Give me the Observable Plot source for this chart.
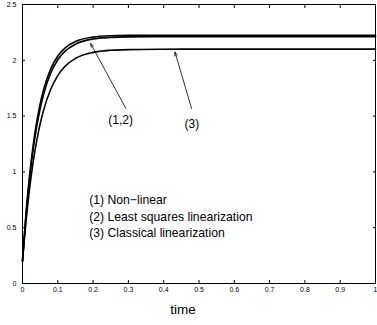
<!DOCTYPE html>
<html>
<head>
<meta charset="utf-8">
<script src="https://cdn.jsdelivr.net/npm/d3@7"></script>
<script src="https://cdn.jsdelivr.net/npm/@observablehq/plot@0.6"></script>
<style>
  html, body { margin: 0; padding: 0; background: #fff; }
  #chart { width: 377px; height: 325px; }
  svg { font-family: "Liberation Sans", Arial, Helvetica, sans-serif; }
</style>
</head>
<body>
<div id="chart"></div>
<script>
const times        = [0, 0.005, 0.01, 0.02, 0.03, 0.04, 0.05, 0.06, 0.08, 0.10, 0.12, 0.15, 0.2, 0.25, 0.3, 0.4, 0.5, 0.7, 1.0];
const nonLinear    = [0.2, 0.427, 0.629, 0.967, 1.233, 1.443, 1.609, 1.739, 1.923, 2.038, 2.109, 2.168, 2.208, 2.220, 2.2235, 2.225, 2.225, 2.225, 2.225];
const leastSquares = [0.2, 0.416, 0.609, 0.934, 1.194, 1.401, 1.566, 1.697, 1.886, 2.005, 2.080, 2.145, 2.191, 2.205, 2.210, 2.212, 2.212, 2.212, 2.212];
const classical    = [0.2, 0.388, 0.557, 0.848, 1.083, 1.274, 1.430, 1.556, 1.741, 1.863, 1.944, 2.017, 2.071, 2.090, 2.096, 2.099, 2.100, 2.100, 2.100];

const xTicks = [0, 0.1, 0.2, 0.3, 0.4, 0.5, 0.6, 0.7, 0.8, 0.9, 1];
const yTicks = [0, 0.5, 1, 1.5, 2, 2.5];
const xTickLabels = ["0", "0.1", "0.2", "0.3", "0.4", "0.5", "0.6", "0.7", "0.8", "0.9", "1"];
const yTickLabels = ["0", "0.5", "1", "1.5", "2", "2.5"];

const legendLines = ["(1) Non\u2212linear", "(2) Least squares linearization", "(3) Classical linearization"];
const legendY = [0.748, 0.592, 0.449];
const legendX = 0.189;

const arrowLabels = ["(1,2)", "(3)"];
const arrowLabelX = [0.278, 0.48];
const arrowLabelY = [1.46, 1.43];
const arrowFromX = [0.293, 0.479];
const arrowFromY = [1.568, 1.568];
const arrowToX = [0.193, 0.432];
const arrowToY = [2.15, 2.073];

const xLabel = "time";

const series = [
  {name: "(1)", values: nonLinear},
  {name: "(2)", values: leastSquares},
  {name: "(3)", values: classical}
];
const lineData = series.flatMap(s => times.map((t, i) => ({t, v: s.values[i], s: s.name})));
const legendData = legendLines.map((text, i) => ({text, x: legendX, y: legendY[i]}));
const arrowData = arrowLabels.map((text, i) => ({
  text, lx: arrowLabelX[i], ly: arrowLabelY[i],
  x1: arrowFromX[i], y1: arrowFromY[i], x2: arrowToX[i], y2: arrowToY[i]
}));

const xFmt = d => xTickLabels[xTicks.indexOf(d)];
const yFmt = d => yTickLabels[yTicks.indexOf(d)];

const plot = Plot.plot({
  width: 377,
  height: 325,
  marginLeft: 22,
  marginRight: 2,
  marginTop: 4,
  marginBottom: 42,
  style: {fontFamily: "'Liberation Sans', Arial, Helvetica, sans-serif", background: "white"},
  x: {domain: [0, 1]},
  y: {domain: [0, 2.5]},
  marks: [
    Plot.line(lineData, {x: "t", y: "v", z: "s", stroke: "black", strokeWidth: 1.6, curve: "monotone-x"}),
    Plot.arrow(arrowData, {x1: "x1", y1: "y1", x2: "x2", y2: "y2", stroke: "black", strokeWidth: 0.8, headLength: 7, headAngle: 40}),
    Plot.text(arrowData, {x: "lx", y: "ly", text: "text", fontSize: 12, fill: "black"}),
    Plot.text(legendData, {x: "x", y: "y", text: "text", textAnchor: "start", fontSize: 12.2, fill: "black"}),
    Plot.axisX({anchor: "bottom", ticks: xTicks, tickFormat: xFmt, tickSize: -3, tickPadding: 7, fontSize: 7, label: null, stroke: "black"}),
    Plot.axisX({anchor: "top", ticks: xTicks, tickFormat: () => "", tickSize: -3, label: null}),
    Plot.axisY({anchor: "left", ticks: yTicks, tickFormat: yFmt, tickSize: -3, tickPadding: 9, fontSize: 7, label: null}),
    Plot.axisY({anchor: "right", ticks: yTicks, tickFormat: () => "", tickSize: -3, label: null}),
    Plot.frame({stroke: "black", strokeWidth: 1}),
    Plot.text([xLabel], {frameAnchor: "bottom", dy: 30, dx: -16, text: d => d, fontSize: 13.5, fill: "black"})
  ]
});
document.getElementById("chart").appendChild(plot);
</script>
</body>
</html>
